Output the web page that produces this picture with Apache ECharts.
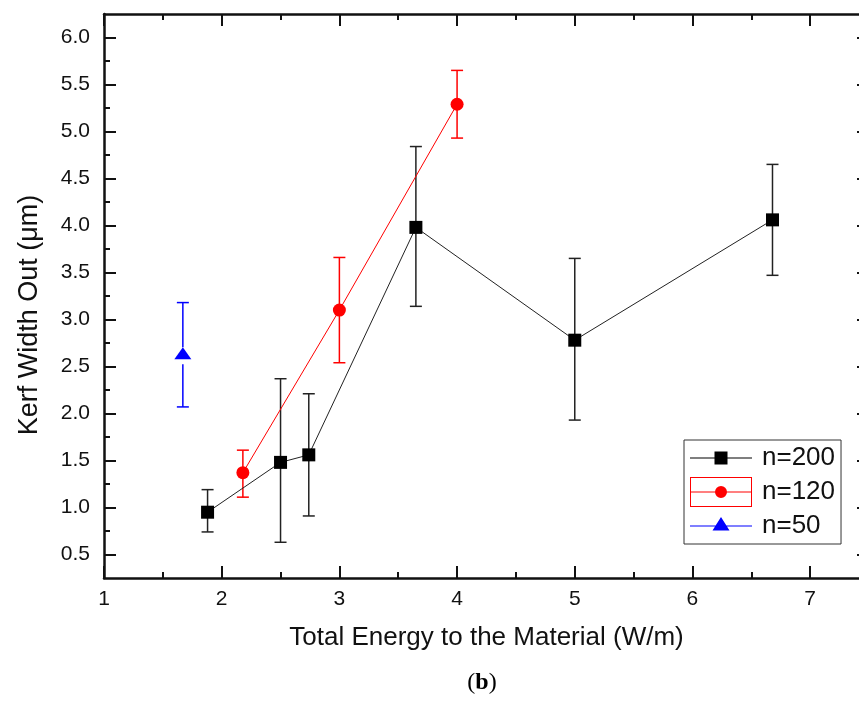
<!DOCTYPE html>
<html><head><meta charset="utf-8">
<script src="https://cdn.jsdelivr.net/npm/echarts@6/dist/echarts.min.js"></script>
<style>html,body{margin:0;padding:0;background:#fff}#c{width:859px;height:707px}</style>
</head><body><div id="c"></div>
<script>
// ---- axis ticks ----
const xTicks = [1, 2, 3, 4, 5, 6, 7];
const xMinorTicks = [1.5, 2.5, 3.5, 4.5, 5.5, 6.5];
const yTicks = [0.5, 1.0, 1.5, 2.0, 2.5, 3.0, 3.5, 4.0, 4.5, 5.0, 5.5, 6.0];
const yMinorTicks = [0.75, 1.25, 1.75, 2.25, 2.75, 3.25, 3.75, 4.25, 4.75, 5.25, 5.75];

// ---- series n=200 ----
const n200X = [1.88, 2.50, 2.74, 3.65, 5.00, 6.68];
const n200Y = [0.95, 1.48, 1.56, 3.98, 2.78, 4.06];
const n200Hi = [1.19, 2.37, 2.21, 4.84, 3.65, 4.65];
const n200Lo = [0.74, 0.63, 0.91, 3.14, 1.93, 3.47];

// ---- series n=120 ----
const n120X = [2.18, 3.00, 4.00];
const n120Y = [1.37, 3.10, 5.29];
const n120Hi = [1.61, 3.66, 5.65];
const n120Lo = [1.11, 2.54, 4.93];

// ---- series n=50 ----
const n50X = [1.67];
const n50Y = [2.64];
const n50Hi = [3.18];
const n50Lo = [2.07];

const TXT = '#111';
const FONT = '"Liberation Sans", Arial, sans-serif';

function pts(xs, ys) { return xs.map((x, i) => [x, ys[i]]); }
function errData(xs, ys, lo, hi) { return xs.map((x, i) => [x, lo[i], hi[i], ys[i]]); }

function errRender(color, gapTop, gapBot) {
  return function (params, api) {
    const x = api.value(0), lo = api.value(1), hi = api.value(2), y = api.value(3);
    const pHi = api.coord([x, hi]), pLo = api.coord([x, lo]), pC = api.coord([x, y]);
    const cw = 6;
    const st = { stroke: color, lineWidth: 1.5 };
    const children = [
      { type: 'line', shape: { x1: pHi[0] - cw, y1: pHi[1], x2: pHi[0] + cw, y2: pHi[1] }, style: st },
      { type: 'line', shape: { x1: pLo[0] - cw, y1: pLo[1], x2: pLo[0] + cw, y2: pLo[1] }, style: st }
    ];
    if (gapTop || gapBot) {
      children.push({ type: 'line', shape: { x1: pHi[0], y1: pHi[1], x2: pC[0], y2: pC[1] - gapTop }, style: st });
      children.push({ type: 'line', shape: { x1: pC[0], y1: pC[1] + gapBot, x2: pLo[0], y2: pLo[1] }, style: st });
    } else {
      children.push({ type: 'line', shape: { x1: pHi[0], y1: pHi[1], x2: pLo[0], y2: pLo[1] }, style: st });
    }
    return { type: 'group', children: children };
  };
}

const speck = 'M0 0h0.01v0.01h-0.01z M61.99 29.99h0.01v0.01h-0.01z ';
const iconSquare = 'path://' + speck + 'M0 14.5h62v1h-62z M24.5 8.5h13v13h-13z';
const iconCircleBox = 'path://M0 0h62v30h-62z M1 1v28h60v-28z M1 14.5h60v1h-60z M25 15a6 6 0 1 1 12 0a6 6 0 1 1 -12 0z';
const iconTriangle = 'path://' + speck + 'M0 14.5h62v1h-62z M31 6L39.5 19.5L22.5 19.5z';

const axisLineSt = { show: true, onZero: false, lineStyle: { color: '#111', width: 2.5 } };
function majorTick(vals) { return { show: true, inside: true, length: 12, customValues: vals, lineStyle: { color: '#111', width: 2 } }; }
function minorTickAx(vals) { return { show: true, inside: true, length: 6, customValues: vals, lineStyle: { color: '#111', width: 2 } }; }

const gridBox = { left: 104, top: 14, width: 765, height: 564, outerBoundsMode: 'none', containLabel: false };
const xRange = { min: 1, max: 7.5, interval: 0.5 };
const yRange = { min: 0.25, max: 6.25, interval: 0.25 };

const option = {
  animation: false,
  backgroundColor: '#fff',
  textStyle: { fontFamily: FONT },
  grid: [Object.assign({}, gridBox), Object.assign({}, gridBox)],
  xAxis: [
    Object.assign({ gridIndex: 0, type: 'value', position: 'bottom', splitLine: { show: false },
      axisLine: axisLineSt, axisTick: majorTick(xTicks),
      axisLabel: { customValues: xTicks, margin: 11, fontSize: 21, color: TXT, fontFamily: FONT },
      name: 'Total Energy to the Material (W/m)', nameLocation: 'middle', nameGap: 47,
      nameTextStyle: { fontSize: 26, color: TXT, fontFamily: FONT } }, xRange),
    Object.assign({ gridIndex: 0, type: 'value', position: 'top', splitLine: { show: false },
      axisLine: axisLineSt, axisTick: majorTick(xTicks), axisLabel: { show: false } }, xRange),
    Object.assign({ gridIndex: 1, type: 'value', position: 'bottom', splitLine: { show: false },
      axisLine: { show: false }, axisTick: minorTickAx(xMinorTicks), axisLabel: { show: false } }, xRange),
    Object.assign({ gridIndex: 1, type: 'value', position: 'top', splitLine: { show: false },
      axisLine: { show: false }, axisTick: minorTickAx(xMinorTicks), axisLabel: { show: false } }, xRange)
  ],
  yAxis: [
    Object.assign({ gridIndex: 0, type: 'value', position: 'left', splitLine: { show: false },
      axisLine: axisLineSt, axisTick: majorTick(yTicks),
      axisLabel: { customValues: yTicks, margin: 14, fontSize: 21, color: TXT, fontFamily: FONT,
        formatter: v => Number(v).toFixed(1) },
      name: 'Kerf Width Out (\u03bcm)', nameLocation: 'middle', nameGap: 61,
      nameTextStyle: { fontSize: 27, color: TXT, fontFamily: FONT, padding: [0, 38, 0, 0] } }, yRange),
    Object.assign({ gridIndex: 0, type: 'value', position: 'right', splitLine: { show: false },
      axisLine: axisLineSt, axisTick: majorTick(yTicks), axisLabel: { show: false } }, yRange),
    Object.assign({ gridIndex: 1, type: 'value', position: 'left', splitLine: { show: false },
      axisLine: { show: false }, axisTick: minorTickAx(yMinorTicks), axisLabel: { show: false } }, yRange),
    Object.assign({ gridIndex: 1, type: 'value', position: 'right', splitLine: { show: false },
      axisLine: { show: false }, axisTick: minorTickAx(yMinorTicks), axisLabel: { show: false } }, yRange)
  ],
  legend: {
    orient: 'vertical', left: 684, top: 440, padding: [3, 6, 3, 6],
    itemWidth: 62, itemHeight: 30, itemGap: 4,
    borderColor: '#333', borderWidth: 1,
    itemStyle: { borderWidth: 0 },
    textStyle: { fontSize: 26, color: TXT, fontFamily: FONT, padding: [0, 0, 0, 5] },
    data: [
      { name: 'n=200', icon: iconSquare },
      { name: 'n=120', icon: iconCircleBox },
      { name: 'n=50', icon: iconTriangle }
    ]
  },
  graphic: [{
    type: 'text', x: 482, y: 683,
    style: {
      text: '{p|(}{b|b}{p|)}', align: 'center', verticalAlign: 'middle',
      rich: {
        p: { fontFamily: '"Liberation Serif", "DejaVu Serif", serif', fontSize: 24, fill: '#000' },
        b: { fontFamily: '"Liberation Serif", "DejaVu Serif", serif', fontSize: 24, fontWeight: 'bold', fill: '#000' }
      }
    }
  }],
  series: [
    { name: 'n=200 err', type: 'custom', xAxisIndex: 0, yAxisIndex: 0, z: 2,
      renderItem: errRender('#222', 0, 0), data: errData(n200X, n200Y, n200Lo, n200Hi) },
    { name: 'n=120 err', type: 'custom', xAxisIndex: 0, yAxisIndex: 0, z: 2,
      renderItem: errRender('#ff0000', 0, 0), data: errData(n120X, n120Y, n120Lo, n120Hi) },
    { name: 'n=50 err', type: 'custom', xAxisIndex: 0, yAxisIndex: 0, z: 2,
      renderItem: errRender('#0000ff', 6, 11), data: errData(n50X, n50Y, n50Lo, n50Hi) },
    { name: 'n=200', type: 'line', xAxisIndex: 0, yAxisIndex: 0, z: 3,
      data: pts(n200X, n200Y), symbol: 'rect', symbolSize: 13, showAllSymbol: true,
      itemStyle: { color: '#000', borderWidth: 0 }, lineStyle: { color: '#222', width: 1 } },
    { name: 'n=120', type: 'line', xAxisIndex: 0, yAxisIndex: 0, z: 3,
      data: pts(n120X, n120Y), symbol: 'circle', symbolSize: 13, showAllSymbol: true,
      itemStyle: { color: '#ff0000', borderWidth: 0 }, lineStyle: { color: '#ff0000', width: 1 } },
    { name: 'n=50', type: 'line', xAxisIndex: 0, yAxisIndex: 0, z: 3,
      data: pts(n50X, n50Y), symbol: 'triangle', symbolSize: [17, 12], showAllSymbol: true,
      itemStyle: { color: '#0000ff', borderWidth: 0 }, lineStyle: { color: '#0000ff', width: 1 } }
  ]
};

const chart = echarts.init(document.getElementById('c'), null, { renderer: 'canvas' });
chart.setOption(option);
</script>
</body></html>
